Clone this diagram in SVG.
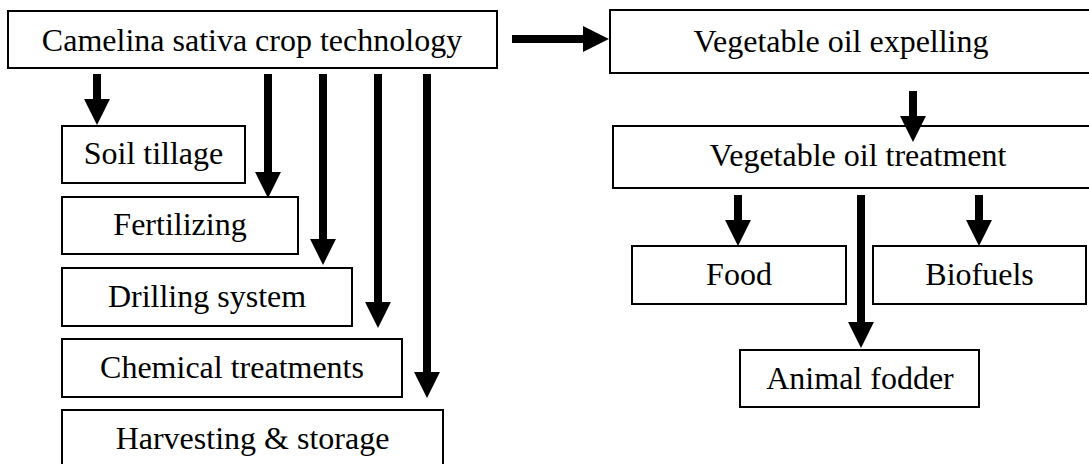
<svg xmlns="http://www.w3.org/2000/svg" width="1089" height="464" viewBox="0 0 1089 464">
<style>
.box{fill:#fff;stroke:#000;stroke-width:2}
.lbl{font-family:"Liberation Serif","Times New Roman",serif;font-size:32px;fill:#000;text-anchor:middle}
.arr{stroke:#000;stroke-width:8;fill:none;marker-end:url(#head)}
</style>
<defs>
<marker id="head" markerUnits="userSpaceOnUse" markerWidth="26" markerHeight="26" viewBox="0 0 24 24" refX="1" refY="12" orient="auto">
<path d="M0,0 L24,12 L0,24 Z" fill="#000"/>
</marker>
</defs>
<rect width="1089" height="464" fill="#fff"/>
<g id="n-camelina"><rect class="box" x="8" y="11" width="489" height="57"/><text class="lbl" x="252" y="51">Camelina sativa crop technology</text></g>
<g id="n-soil"><rect class="box" x="62" y="126" width="183" height="57"/><text class="lbl" x="153.5" y="164">Soil tillage</text></g>
<g id="n-fert"><rect class="box" x="62" y="197" width="236" height="57"/><text class="lbl" x="180" y="235">Fertilizing</text></g>
<g id="n-drill"><rect class="box" x="62" y="268" width="290" height="58"/><text class="lbl" x="207" y="307">Drilling system</text></g>
<g id="n-chem"><rect class="box" x="62" y="339" width="340" height="58"/><text class="lbl" x="232" y="378">Chemical treatments</text></g>
<g id="n-harv"><rect class="box" x="62" y="410" width="381" height="60"/><text class="lbl" x="252.5" y="449">Harvesting &amp; storage</text></g>
<g id="n-expel"><rect class="box" x="610" y="10" width="490" height="63"/><text class="lbl" x="841" y="52">Vegetable oil expelling</text></g>
<g id="n-treat"><rect class="box" x="613" y="126" width="490" height="62"/><text class="lbl" x="858" y="166">Vegetable oil treatment</text></g>
<g id="n-food"><rect class="box" x="632" y="246" width="214" height="58"/><text class="lbl" x="739" y="285">Food</text></g>
<g id="n-bio"><rect class="box" x="873" y="246" width="213" height="58"/><text class="lbl" x="979.5" y="285">Biofuels</text></g>
<g id="n-fodder"><rect class="box" x="740" y="350" width="239" height="57"/><text class="lbl" x="860" y="389">Animal fodder</text></g>
<g id="connectors">
<line class="arr" x1="97" y1="74" x2="97" y2="100"/>
<line class="arr" x1="268" y1="74" x2="268" y2="173"/>
<line class="arr" x1="323" y1="74" x2="323" y2="240"/>
<line class="arr" x1="378" y1="74" x2="378" y2="303"/>
<line class="arr" x1="427" y1="74" x2="427" y2="373"/>
<line class="arr" x1="512" y1="39" x2="584" y2="39"/>
<line class="arr" x1="913" y1="91" x2="913" y2="117"/>
<line class="arr" x1="738" y1="195" x2="738" y2="221"/>
<line class="arr" x1="861" y1="195" x2="861" y2="323"/>
<line class="arr" x1="979" y1="195" x2="979" y2="221"/>
</g>
</svg>
